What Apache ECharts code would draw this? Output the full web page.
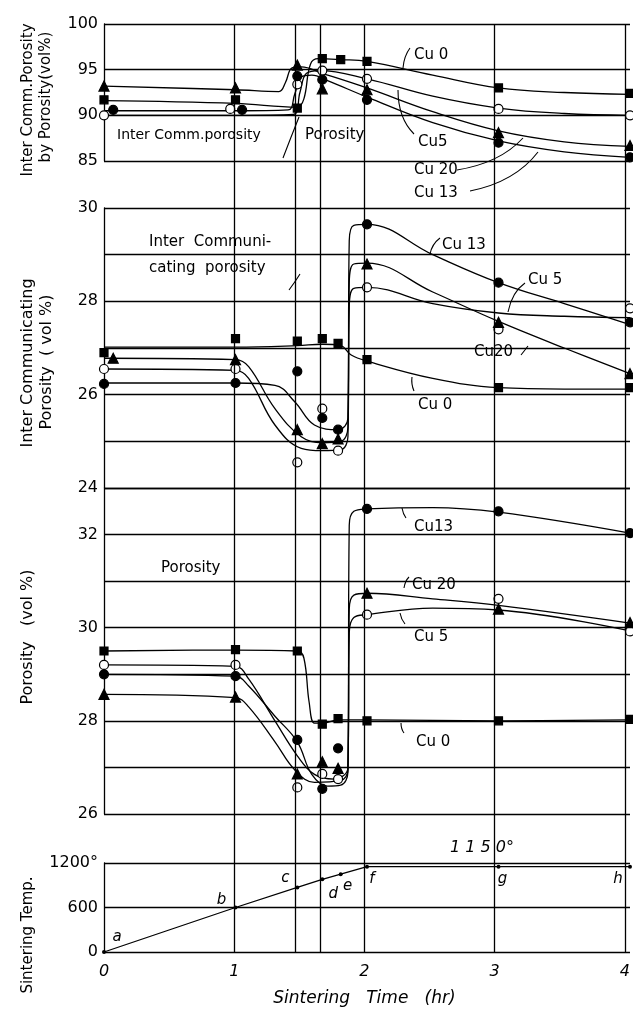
<!DOCTYPE html>
<html>
<head>
<meta charset="utf-8">
<title>Sintering time vs porosity</title>
<script src="https://cdn.jsdelivr.net/npm/echarts@6/dist/echarts.min.js"></script>
<style>
  html, body { margin: 0; padding: 0; background: #fff; }
  #chart { width: 633px; height: 1019px; }
</style>
</head>
<body>
<div id="chart"></div>
<script>
// sintering time (hr) of the vertical guide lines: 1, c, d, 2, 3, 4
const guideTimes = [1, 1.47, 1.66, 2, 3, 4];
const timeTicks = [0, 1, 2, 3, 4];

// top panel: inter comm. porosity / porosity (vol %), measured points
const ratioCu0 = [[0, 91.7], [1, 91.7], [1.47, 90.8], [1.66, 96.2], [1.8, 96.1], [2, 95.9], [3, 93.0], [4, 92.4]];
const ratioCu5 = [[0, 90.0], [0.96, 90.7], [1.47, 93.4], [1.66, 94.9], [2, 94.0], [3, 90.7], [4, 90.0]];
const ratioCu13 = [[0.07, 90.6], [1.05, 90.6], [1.47, 94.3], [1.66, 93.9], [2, 91.7], [3, 87.0], [4, 85.4]];
const ratioCu20 = [[0, 93.2], [1, 93.0], [1.47, 95.5], [1.66, 92.9], [2, 92.8], [3, 88.1], [4, 86.7]];
// the hand drawn curves
const ratioCurveCu0 = [[0, 91.6], [1, 91.3], [1.47, 90.9], [1.52, 91.8], [1.57, 95.6], [1.63, 96.2], [1.8, 96.1], [2, 95.9], [2.5, 94.4], [3, 93.0], [3.5, 92.5], [4, 92.3]];
const ratioCurveCu5 = [[0, 90.0], [1, 90.0], [1.44, 90.1], [1.49, 92.5], [1.54, 94.6], [1.64, 94.9], [2, 94.0], [2.5, 92.1], [3, 90.8], [3.5, 90.2], [4, 90.0]];
const ratioCurveCu13 = [[0, 90.5], [1, 90.5], [1.4, 90.6], [1.45, 92.3], [1.5, 94.2], [1.58, 94.4], [1.7, 93.8], [2, 92.0], [2.5, 89.2], [3, 87.2], [3.5, 86.0], [4, 85.4]];
const ratioCurveCu20 = [[0, 93.2], [1, 92.8], [1.33, 92.6], [1.38, 93.6], [1.43, 95.2], [1.5, 95.3], [1.66, 94.6], [2, 93.0], [2.5, 90.4], [3, 88.3], [3.5, 87.1], [4, 86.6]];

// second panel: inter communicating porosity (vol %)
const icpCu0 = [[0, 26.9], [1, 27.2], [1.47, 27.15], [1.66, 27.2], [1.78, 27.1], [2, 26.75], [3, 26.15], [4, 26.15]];
const icpCu5 = [[0, 26.55], [1, 26.55], [1.47, 24.55], [1.66, 25.7], [1.78, 24.8], [2, 28.3], [3, 27.4], [4, 27.85]];
const icpCu13 = [[0, 26.23], [1, 26.25], [1.47, 26.5], [1.66, 25.5], [1.78, 25.25], [2, 29.65], [3, 28.4], [4, 27.55]];
const icpCu20 = [[0.07, 26.78], [1, 26.75], [1.47, 25.25], [1.66, 24.95], [1.78, 25.05], [2, 28.8], [3, 27.55], [4, 26.45]];
const icpCurveCu0 = [[0, 27.02], [1, 27.02], [1.47, 27.05], [1.66, 27.08], [1.8, 27.05], [1.88, 26.85], [2, 26.72], [2.5, 26.35], [3, 26.15], [3.5, 26.12], [4, 26.12]];
const icpCurveCu5 = [[0, 26.55], [1, 26.52], [1.1, 26.35], [1.3, 25.35], [1.5, 24.85], [1.66, 24.8], [1.8, 24.82], [1.855, 25.1], [1.865, 27.9], [1.9, 28.28], [2, 28.3], [2.5, 27.95], [3, 27.75], [3.5, 27.68], [4, 27.65]];
const icpCurveCu13 = [[0, 26.25], [1, 26.25], [1.3, 26.2], [1.45, 25.85], [1.6, 25.35], [1.78, 25.25], [1.855, 25.5], [1.865, 29.3], [1.9, 29.63], [2, 29.65], [2.5, 29.0], [3, 28.4], [3.5, 27.95], [4, 27.5]];
const icpCurveCu20 = [[0, 26.78], [1, 26.75], [1.1, 26.6], [1.3, 25.7], [1.5, 25.1], [1.66, 24.97], [1.8, 25.0], [1.855, 25.3], [1.865, 28.4], [1.9, 28.8], [2, 28.82], [2.5, 28.2], [3, 27.57], [3.5, 27.0], [4, 26.45]];

// third panel: porosity (vol %)
const porCu0 = [[0, 29.5], [1, 29.53], [1.47, 29.5], [1.66, 27.93], [1.78, 28.05], [2, 28.0], [3, 28.0], [4, 28.03]];
const porCu5 = [[0, 29.2], [1, 29.2], [1.47, 26.57], [1.66, 26.86], [1.78, 26.75], [2, 30.28], [3, 30.62], [4, 29.92]];
const porCu13 = [[0, 29.0], [1, 28.96], [1.47, 27.59], [1.66, 26.54], [1.78, 27.41], [2, 32.55], [3, 32.5], [4, 32.03]];
const porCu20 = [[0, 28.57], [1, 28.51], [1.47, 26.86], [1.66, 27.12], [1.78, 26.98], [2, 30.74], [3, 30.4], [4, 30.11]];
const porCurveCu0 = [[0, 29.5], [1, 29.52], [1.47, 29.5], [1.52, 29.35], [1.56, 28.4], [1.6, 27.95], [1.66, 27.95], [1.78, 28.02], [2, 28.02], [3, 28.0], [4, 28.02]];
const porCurveCu5 = [[0, 29.2], [1, 29.17], [1.1, 28.9], [1.3, 28.0], [1.47, 27.25], [1.6, 26.85], [1.75, 26.75], [1.855, 27.0], [1.865, 29.9], [1.9, 30.22], [2, 30.28], [2.5, 30.42], [3, 30.38], [4, 29.93]];
const porCurveCu13 = [[0, 29.0], [1, 28.96], [1.1, 28.75], [1.3, 28.1], [1.47, 27.55], [1.58, 26.85], [1.7, 26.6], [1.8, 26.62], [1.855, 26.9], [1.865, 32.2], [1.9, 32.5], [2, 32.55], [2.5, 32.58], [3, 32.48], [4, 32.03]];
const porCurveCu20 = [[0, 28.57], [1, 28.5], [1.1, 28.3], [1.3, 27.55], [1.45, 26.95], [1.6, 26.68], [1.8, 26.72], [1.855, 26.95], [1.865, 30.4], [1.9, 30.7], [2, 30.74], [2.5, 30.62], [3, 30.48], [4, 30.1]];

// bottom panel: sintering temperature schedule
const tempTimes = [0, 1, 1.47, 1.66, 1.8, 2, 3, 4];
const tempValues = [0, 600, 870, 980, 1050, 1150, 1150, 1150];
const tempNames = ['a', 'b', 'c', 'd', 'e', 'f', 'g', 'h'];

const alloys = ['Cu 0', 'Cu 5', 'Cu 13', 'Cu 20'];

// ---- styles ----
const FONT = '"DejaVu Sans", sans-serif';
const markers = [
    { symbol: 'rect', size: 8, fill: '#000' },
    { symbol: 'circle', size: 9, fill: '#fff' },
    { symbol: 'circle', size: 9, fill: '#000' },
    { symbol: 'triangle', size: 10, fill: '#000' }
];
const tempLabelOffsets = [[13, -15], [-14, -7], [-12, -9], [11, 15], [7, 12], [5, 12], [4, 12], [-12, 12]];

const panels = [
    { points: [ratioCu0, ratioCu5, ratioCu13, ratioCu20], curves: [ratioCurveCu0, ratioCurveCu5, ratioCurveCu13, ratioCurveCu20] },
    { points: [icpCu0, icpCu5, icpCu13, icpCu20], curves: [icpCurveCu0, icpCurveCu5, icpCurveCu13, icpCurveCu20] },
    { points: [porCu0, porCu5, porCu13, porCu20], curves: [porCurveCu0, porCurveCu5, porCurveCu13, porCurveCu20] }
];

const grids = [
    { left: 104, width: 526, top: 24, height: 137 },
    { left: 104, width: 526, top: 208, height: 280 },
    { left: 104, width: 526, top: 488, height: 326 },
    { left: 104, width: 526, top: 863, height: 89 },
    { left: 104, width: 526, top: 24, height: 928 }
];

const yRanges = [
    { min: 85, max: 100, interval: 5, fmt: v => v },
    { min: 24, max: 30, interval: 1, fmt: v => (v % 2 === 0 ? v : '') },
    { min: 26, max: 33, interval: 1, fmt: v => (v % 2 === 0 ? v : '') },
    { min: 0, max: 1200, interval: 600, fmt: v => (v === 1200 ? '1200°' : v) }
];

const lineStyle = { color: '#000', width: 1.3 };

const xAxes = grids.map((g, i) => ({
    gridIndex: i,
    type: 'value',
    min: 0, max: 4, interval: 1,
    show: i === 4,
    axisLine: { show: false },
    axisTick: { show: false },
    splitLine: { show: false },
    axisLabel: { show: i === 4, margin: 12, color: '#000', fontSize: 16, fontStyle: 'italic', fontFamily: FONT },
    name: i === 4 ? 'Sintering   Time   (hr)' : '',
    nameLocation: 'middle',
    nameGap: 38,
    nameTextStyle: { color: '#000', fontSize: 17, fontStyle: 'italic', fontFamily: FONT }
}));

const yAxes = grids.map((g, i) => {
    if (i === 4) {
        return { gridIndex: 4, type: 'value', min: 0, max: 1, show: false };
    }
    const r = yRanges[i];
    return {
        gridIndex: i,
        type: 'value',
        min: r.min, max: r.max, interval: r.interval,
        axisLine: { show: true, lineStyle: lineStyle },
        axisTick: { show: false },
        splitLine: { show: true, lineStyle: lineStyle },
        axisLabel: { color: '#000', fontSize: 16, fontFamily: FONT, margin: 6, formatter: r.fmt }
    };
});

const series = [];

// vertical guide lines through all panels
series.push({
    type: 'line',
    xAxisIndex: 4, yAxisIndex: 4,
    data: [],
    silent: true,
    z: 1,
    markLine: {
        silent: true,
        symbol: 'none',
        label: { show: false },
        lineStyle: { color: '#000', width: 1.3, type: 'solid' },
        data: guideTimes.map(t => ({ xAxis: t }))
    }
});

panels.forEach((p, pi) => {
    alloys.forEach((name, k) => {
        series.push({
            name: name,
            type: 'line',
            xAxisIndex: pi, yAxisIndex: pi,
            data: p.curves[k],
            showSymbol: false,
            symbol: 'none',
            smooth: 0.4,
            lineStyle: lineStyle,
            silent: true,
            z: 3
        });
        series.push({
            name: name,
            type: 'scatter',
            xAxisIndex: pi, yAxisIndex: pi,
            data: p.points[k],
            symbol: markers[k].symbol,
            symbolSize: markers[k].size,
            itemStyle: { color: markers[k].fill, borderColor: '#000', borderWidth: 1.2, opacity: 1 },
            silent: true,
            z: 4
        });
    });
});

series.push({
    type: 'line',
    xAxisIndex: 3, yAxisIndex: 3,
    data: tempTimes.map((t, i) => [t, tempValues[i]]),
    symbol: 'circle',
    symbolSize: 4,
    itemStyle: { color: '#000' },
    lineStyle: lineStyle,
    silent: true,
    z: 4,
    label: {
        show: true,
        position: 'inside',
        color: '#000',
        fontSize: 15,
        fontStyle: 'italic',
        fontFamily: FONT,
        formatter: p => tempNames[p.dataIndex]
    },
    labelLayout: p => ({ dx: tempLabelOffsets[p.dataIndex][0], dy: tempLabelOffsets[p.dataIndex][1] })
});

// ---- text and leaders ----
function txt(text, x, y, opt) {
    opt = opt || {};
    return {
        type: 'text', x: x, y: y, rotation: opt.rot || 0, z: 10, silent: true,
        style: {
            text: text, fill: '#000',
            font: (opt.italic ? 'italic ' : '') + (opt.size || 15) + 'px ' + FONT,
            align: opt.align || 'left', textAlign: opt.align || 'left',
            verticalAlign: 'middle', textVerticalAlign: 'middle'
        }
    };
}
function leader(x1, y1, cx, cy, x2, y2) {
    return {
        type: 'bezierCurve', z: 10, silent: true,
        shape: { x1: x1, y1: y1, cpx1: cx, cpy1: cy, x2: x2, y2: y2 },
        style: { stroke: '#000', lineWidth: 1.1, fill: null }
    };
}
const R = Math.PI / 2;
const graphics = [
    // axis titles
    txt('Inter Comm.Porosity', 28, 100, { rot: R, align: 'center' }),
    txt('by Porosity(vol%)', 46, 97, { rot: R, align: 'center' }),
    txt('Inter Communicating', 28, 363, { rot: R, align: 'center', size: 16 }),
    txt('Porosity  ( vol %)', 47, 362, { rot: R, align: 'center', size: 16 }),
    txt('Porosity   (vol %)', 28, 637, { rot: R, align: 'center', size: 16 }),
    txt('Sintering Temp.', 28, 935, { rot: R, align: 'center' }),

    // top panel
    txt('Inter Comm.porosity', 117, 135, { size: 14 }),
    leader(299, 117, 291, 137, 283, 158),
    txt('Porosity', 305, 135, { size: 15 }),
    txt('Cu 0', 414, 55), leader(410, 48, 404, 56, 403, 68),
    txt('Cu5', 418, 142), leader(414, 134, 398, 118, 398, 90),
    txt('Cu 20', 414, 170), leader(457, 170, 500, 163, 523, 138),
    txt('Cu 13', 414, 193), leader(470, 191, 515, 182, 538, 152),

    // inter communicating panel
    txt('Inter  Communi-', 149, 242, { size: 15 }),
    txt('cating  porosity', 149, 268, { size: 15 }),
    leader(300, 274, 295, 282, 289, 290),
    txt('Cu 13', 442, 245), leader(440, 238, 432, 244, 430, 254),
    txt('Cu 5', 528, 280), leader(525, 283, 512, 292, 508, 312),
    txt('Cu20', 474, 352), leader(521, 355, 525, 350, 528, 346),
    txt('Cu 0', 418, 405), leader(412, 377, 411, 384, 414, 391),

    // porosity panel
    txt('Porosity', 161, 568, { size: 15 }),
    txt('Cu13', 414, 527), leader(402, 508, 403, 514, 406, 518),
    txt('Cu 20', 412, 585), leader(404, 588, 405, 581, 409, 577),
    txt('Cu 5', 414, 637), leader(400, 613, 401, 619, 405, 624),
    txt('Cu 0', 416, 742), leader(401, 723, 401, 729, 404, 733),

    // temperature panel
    txt('1 1 5 0°', 482, 848, { italic: true, align: 'center', size: 16 })
];

const chart = echarts.init(document.getElementById('chart'), null, { renderer: 'canvas' });
chart.setOption({
    animation: false,
    backgroundColor: '#fff',
    grid: grids,
    xAxis: xAxes,
    yAxis: yAxes,
    series: series,
    graphic: graphics
});
window.addEventListener('resize', () => chart.resize());
</script>
</body>
</html>
